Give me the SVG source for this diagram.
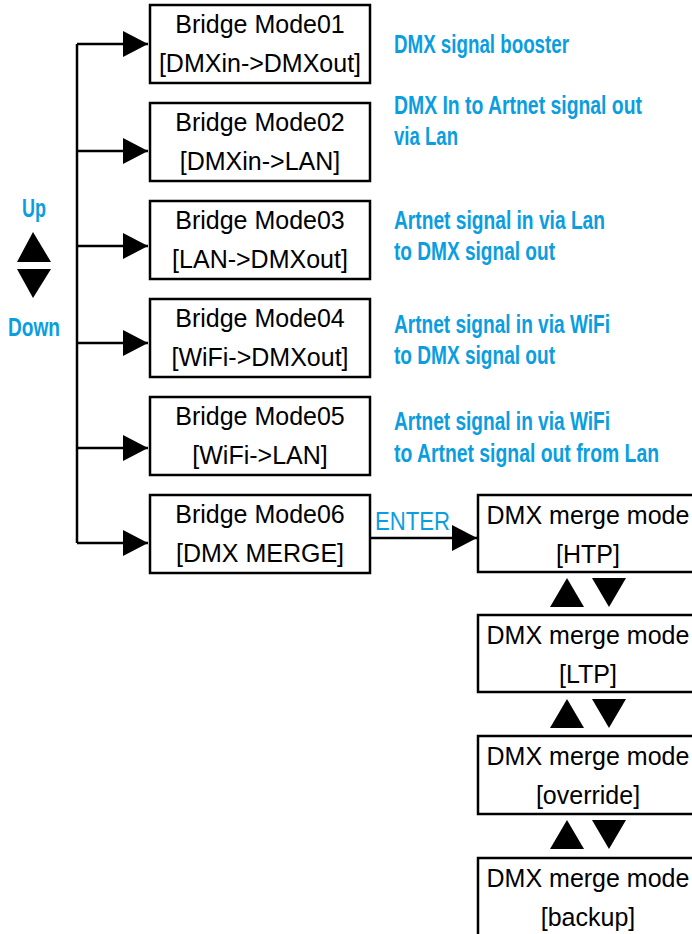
<svg xmlns="http://www.w3.org/2000/svg" width="692" height="934" viewBox="0 0 692 934">
<style>
.box{fill:#fff;stroke:#000;stroke-width:2.5}
.t{font-family:"Liberation Sans",Arial,sans-serif;font-size:25px;fill:#000;text-anchor:middle}
.d{font-family:"Liberation Sans",Arial,sans-serif;font-weight:bold;font-size:25px;fill:#0a9ee0}
.ds{font-family:"Liberation Sans",Arial,sans-serif;font-weight:bold;font-size:19.5px;fill:#0a9ee0}
.e{font-family:"Liberation Sans",Arial,sans-serif;font-size:25px;fill:#0a9ee0}
.ln{fill:none;stroke:#000;stroke-width:2.5}
.tri{fill:#000}
</style>
<defs>
<marker id="ah" markerUnits="userSpaceOnUse" markerWidth="26" markerHeight="28" refX="25" refY="13" orient="auto">
<path d="M0,0 L25,13 L0,26 Z" fill="#000"/>
</marker>
</defs>
<g id="connectors">
<path class="ln" d="M77,44 V543"/>
<path class="ln" d="M77,44 H148" marker-end="url(#ah)"/>
<path class="ln" d="M77,151 H148" marker-end="url(#ah)"/>
<path class="ln" d="M77,246 H148" marker-end="url(#ah)"/>
<path class="ln" d="M77,343 H148" marker-end="url(#ah)"/>
<path class="ln" d="M77,448 H148" marker-end="url(#ah)"/>
<path class="ln" d="M77,543 H148" marker-end="url(#ah)"/>
<path class="ln" d="M370,538 H477" marker-end="url(#ah)"/>
<text class="e" x="375" y="530" textLength="75" lengthAdjust="spacingAndGlyphs">ENTER</text>
</g>
<g id="updown">
<text class="d" x="22" y="217" font-size="21" textLength="24" lengthAdjust="spacingAndGlyphs">Up</text>
<polygon class="tri" points="33,232 51,262 17,262"/>
<polygon class="tri" points="17,269 51,269 33,298"/>
<text class="d" x="8" y="336" font-size="22" textLength="52" lengthAdjust="spacingAndGlyphs">Down</text>
</g>
<g id="mode01">
<rect class="box" x="150" y="5" width="220" height="78"/>
<text class="t" x="260" y="33">Bridge Mode01</text>
<text class="t" x="260" y="72">[DMXin-&gt;DMXout]</text>
</g>
<g id="mode02">
<rect class="box" x="150" y="103" width="220" height="78"/>
<text class="t" x="260" y="131">Bridge Mode02</text>
<text class="t" x="260" y="170">[DMXin-&gt;LAN]</text>
</g>
<g id="mode03">
<rect class="box" x="150" y="201" width="220" height="78"/>
<text class="t" x="260" y="229">Bridge Mode03</text>
<text class="t" x="260" y="268">[LAN-&gt;DMXout]</text>
</g>
<g id="mode04">
<rect class="box" x="150" y="299" width="220" height="78"/>
<text class="t" x="260" y="327">Bridge Mode04</text>
<text class="t" x="260" y="366">[WiFi-&gt;DMXout]</text>
</g>
<g id="mode05">
<rect class="box" x="150" y="397" width="220" height="78"/>
<text class="t" x="260" y="425">Bridge Mode05</text>
<text class="t" x="260" y="464">[WiFi-&gt;LAN]</text>
</g>
<g id="mode06">
<rect class="box" x="150" y="495" width="220" height="78"/>
<text class="t" x="260" y="523">Bridge Mode06</text>
<text class="t" x="260" y="562">[DMX MERGE]</text>
</g>
<g id="descriptions">
<text class="ds" transform="translate(394,53) scale(1,1.28)" textLength="175" lengthAdjust="spacingAndGlyphs">DMX signal booster</text>
<text class="ds" transform="translate(394,114) scale(1,1.28)" textLength="248" lengthAdjust="spacingAndGlyphs">DMX In to Artnet signal out</text>
<text class="ds" transform="translate(394,145) scale(1,1.28)" textLength="64" lengthAdjust="spacingAndGlyphs">via Lan</text>
<text class="ds" transform="translate(394,229) scale(1,1.28)" textLength="211" lengthAdjust="spacingAndGlyphs">Artnet signal in via Lan</text>
<text class="ds" transform="translate(394,260) scale(1,1.28)" textLength="161" lengthAdjust="spacingAndGlyphs">to DMX signal out</text>
<text class="ds" transform="translate(394,333) scale(1,1.28)" textLength="216" lengthAdjust="spacingAndGlyphs">Artnet signal in via WiFi</text>
<text class="ds" transform="translate(394,364) scale(1,1.28)" textLength="161" lengthAdjust="spacingAndGlyphs">to DMX signal out</text>
<text class="ds" transform="translate(394,430) scale(1,1.28)" textLength="216" lengthAdjust="spacingAndGlyphs">Artnet signal in via WiFi</text>
<text class="ds" transform="translate(394,462) scale(1,1.28)" textLength="265" lengthAdjust="spacingAndGlyphs">to Artnet signal out from Lan</text>
</g>
<g id="merge_htp">
<rect class="box" x="478" y="495" width="222" height="77"/>
<text class="t" x="588" y="524">DMX merge mode</text>
<text class="t" x="588" y="563">[HTP]</text>
</g>
<g id="merge_ltp">
<rect class="box" x="478" y="615" width="222" height="77"/>
<text class="t" x="588" y="644">DMX merge mode</text>
<text class="t" x="588" y="683">[LTP]</text>
</g>
<g id="merge_override">
<rect class="box" x="478" y="736" width="222" height="78"/>
<text class="t" x="588" y="765">DMX merge mode</text>
<text class="t" x="588" y="804">[override]</text>
</g>
<g id="merge_backup">
<rect class="box" x="478" y="858" width="222" height="90"/>
<text class="t" x="588" y="887">DMX merge mode</text>
<text class="t" x="588" y="926">[backup]</text>
</g>
<g id="merge_arrows">
<polygon class="tri" points="567,578 584,607 550,607"/>
<polygon class="tri" points="592,578 626,578 609,607"/>
<polygon class="tri" points="567,699 584,728 550,728"/>
<polygon class="tri" points="592,699 626,699 609,728"/>
<polygon class="tri" points="567,820 584,849 550,849"/>
<polygon class="tri" points="592,820 626,820 609,849"/>
</g>
</svg>
